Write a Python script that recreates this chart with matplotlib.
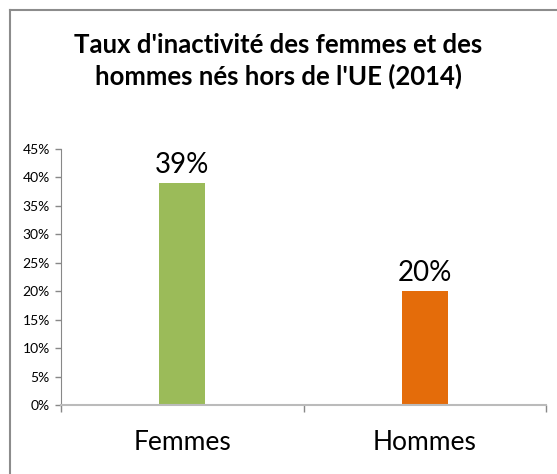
import matplotlib
matplotlib.use("Agg")
import matplotlib.pyplot as plt
from matplotlib.lines import Line2D
import numpy as np

categories = ["Femmes", "Hommes"]
values = [0.39, 0.20]
value_labels = ["39%", "20%"]
colors = ["#9BBB59", "#E46C0A"]
yticks = [0.0, 0.05, 0.10, 0.15, 0.20, 0.25, 0.30, 0.35, 0.40, 0.45]
ytick_labels = ["0%", "5%", "10%", "15%", "20%", "25%", "30%", "35%", "40%", "45%"]
title = "Taux d'inactivité des femmes et des\nhommes nés hors de l'UE (2014)"

plt.rcParams["font.family"] = ["Lato", "DejaVu Sans"]

W, H = 557, 474
fig = plt.figure(figsize=(W / 100, H / 100), dpi=100)

# chart frame (top and left edges visible)
fig.add_artist(Line2D([10 / W, 10 / W], [0, 1 - 10 / H], color="#8c8c8c", lw=1.5))
fig.add_artist(Line2D([10 / W, 1], [1 - 10 / H, 1 - 10 / H], color="#8c8c8c", lw=1.5))

ax = fig.add_axes([61 / W, 69 / H, 485 / W, 256 / H])
x = np.arange(len(categories))
ax.bar(x, values, width=0.19, color=colors)
for xi, v, lab in zip(x, values, value_labels):
    ax.text(xi, v + 0.009, lab, ha="center", va="bottom", fontsize=20, color="#000")

ax.set_xlim(-0.5, len(categories) - 0.5)
ax.set_ylim(0, 0.45)
ax.set_yticks(yticks)
ax.set_yticklabels(ytick_labels, fontsize=10)
ax.set_xticks(x)
ax.set_xticklabels(categories, fontsize=19)
ax.set_xticks([-0.5, 0.5, 1.5], minor=True)
ax.tick_params(axis="x", which="major", length=0, pad=18)
ax.tick_params(axis="x", which="minor", length=5, color="#888", width=1)
ax.tick_params(axis="y", length=4, color="#888", width=1, pad=4)

for s in ["top", "right"]:
    ax.spines[s].set_visible(False)
ax.spines["left"].set_color("#888")
ax.spines["bottom"].set_color("#bbb")
ax.spines["bottom"].set_linewidth(1.5)

fig.text(0.5, 1 - 61 / H, title, ha="center", va="center", fontsize=18.5,
         fontweight="bold", linespacing=1.35)

fig.savefig("out.png", dpi=100)
